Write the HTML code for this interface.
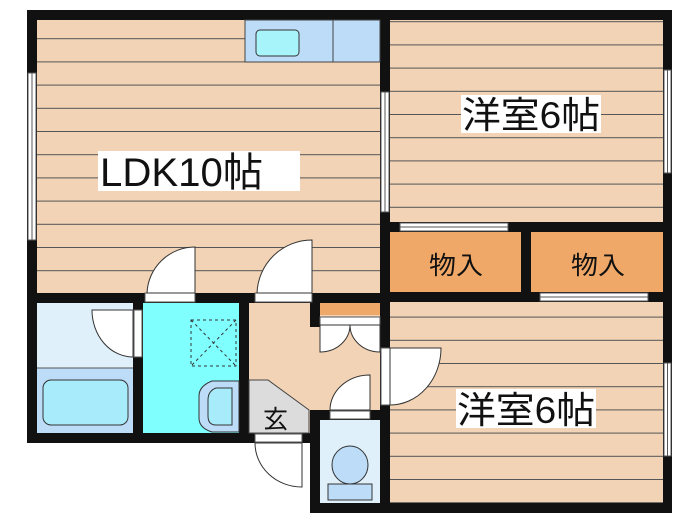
<!DOCTYPE html>
<html><head><meta charset="utf-8"><style>
html,body{margin:0;padding:0;background:#fff;width:700px;height:525px;overflow:hidden}
svg{display:block}
text{font-family:"Liberation Sans","Noto Sans CJK JP",sans-serif;fill:#111}
</style></head><body>
<svg width="700" height="525" viewBox="0 0 700 525" xmlns="http://www.w3.org/2000/svg">
<defs>
<pattern id="wood1" x="0" y="16" width="10" height="23.2" patternUnits="userSpaceOnUse">
<rect width="10" height="23.2" fill="#f2d3b5"/><rect y="22.2" width="10" height="1" fill="#555"/>
</pattern>
<pattern id="wood2" x="0" y="-1" width="10" height="23.2" patternUnits="userSpaceOnUse">
<rect width="10" height="23.2" fill="#f2d3b5"/><rect y="22.2" width="10" height="1" fill="#555"/>
</pattern>
</defs>
<rect x="27" y="10" width="645" height="283" fill="#111"/>
<rect x="27" y="293" width="353" height="150" fill="#111"/>
<rect x="249" y="293" width="423" height="117" fill="#111"/>
<rect x="310" y="293" width="362" height="220" fill="#111"/>
<!-- LDK -->
<rect x="37" y="20" width="343" height="273" fill="url(#wood1)"/>
<rect x="245" y="20" width="135" height="42" fill="#bcdcf8" stroke="#444" stroke-width="1"/>
<line x1="333" y1="20" x2="333" y2="62" stroke="#444"/>
<rect x="256" y="30" width="43" height="26" rx="4" fill="#a8f4fb" stroke="#333" stroke-width="1"/>
<rect x="98" y="151" width="202" height="40" fill="#fff"/>
<text x="100" y="186" font-size="40" textLength="163" lengthAdjust="spacingAndGlyphs">LDK10帖</text>
<rect x="28" y="73" width="8" height="167" fill="#fff" stroke="#555" stroke-width="1"/>
<line x1="32" y1="73" x2="32" y2="240" stroke="#555"/>
<rect x="381" y="92" width="8" height="120" fill="#fff" stroke="#555" stroke-width="1"/>
<line x1="385" y1="92" x2="385" y2="212" stroke="#555"/>
<rect x="145" y="293" width="50" height="9" fill="#fff" stroke="#555"/>
<path d="M195,293 L195,247 A48,48 0 0,0 147,293 Z" fill="#fff" stroke="#333"/>
<rect x="255" y="293" width="57" height="9" fill="#fff" stroke="#555"/>
<path d="M312,293 L312,240 A55,55 0 0,0 257,293 Z" fill="#fff" stroke="#333"/>
<!-- Room 1 -->
<rect x="390" y="20" width="273" height="202" fill="url(#wood2)"/>
<rect x="461" y="95" width="140" height="38" fill="#fff"/>
<text x="462" y="128" font-size="37" textLength="138" lengthAdjust="spacingAndGlyphs">洋室6帖</text>
<rect x="664" y="70" width="7" height="103" fill="#fff" stroke="#555"/>
<line x1="667.5" y1="70" x2="667.5" y2="173" stroke="#555"/>
<rect x="400" y="223" width="108" height="8" fill="#fff" stroke="#555"/>
<line x1="400" y1="227" x2="508" y2="227" stroke="#555"/>
<rect x="390" y="232" width="131" height="60" fill="#f0a868"/>
<rect x="531" y="232" width="132" height="60" fill="#f0a868"/>
<text x="429" y="274" font-size="25" textLength="54" lengthAdjust="spacingAndGlyphs">物入</text>
<text x="571" y="274" font-size="25" textLength="54" lengthAdjust="spacingAndGlyphs">物入</text>
<rect x="540" y="293" width="108" height="8" fill="#fff" stroke="#555"/>
<line x1="540" y1="297" x2="648" y2="297" stroke="#555"/>
<!-- Room 2 -->
<rect x="390" y="302" width="273" height="201" fill="url(#wood1)"/>
<rect x="456" y="389" width="140" height="39" fill="#fff"/>
<text x="457" y="423" font-size="37" textLength="138" lengthAdjust="spacingAndGlyphs">洋室6帖</text>
<rect x="664" y="363" width="7" height="93" fill="#fff" stroke="#555"/>
<line x1="667.5" y1="363" x2="667.5" y2="456" stroke="#555"/>
<rect x="381" y="348" width="9" height="57" fill="#fff" stroke="#555"/>
<path d="M390,348 L441,348 A51,57 0 0,1 390,405 Z" fill="#fff" stroke="#333"/>
<!-- Bath -->
<rect x="37" y="303" width="96" height="65" fill="#dff0fb"/>
<rect x="37" y="368" width="96" height="65" fill="#bcdcf8"/>
<line x1="37" y1="368" x2="133" y2="368" stroke="#555"/>
<rect x="43" y="380" width="85" height="45" rx="8" fill="#a8ecfb" stroke="#333"/>
<rect x="134" y="310" width="8" height="47" fill="#fff" stroke="#555"/>
<path d="M133,310 L92,310 A41,47 0 0,0 133,357 Z" fill="#fff" stroke="#333"/>
<!-- Wash -->
<rect x="143" y="303" width="96" height="130" fill="#80ffff"/>
<rect x="191" y="320" width="45" height="46" fill="none" stroke="#333" stroke-dasharray="3,3"/>
<line x1="191" y1="320" x2="236" y2="366" stroke="#333" stroke-dasharray="3,3"/>
<line x1="236" y1="320" x2="191" y2="366" stroke="#333" stroke-dasharray="3,3"/>
<path d="M239,381 L212,381 Q199,386 199,396 L199,418 Q199,428 212,432 L239,432 Z" fill="#bcdcf8" stroke="#333"/>
<path d="M232,388 L216,388 Q208,391 208,400 L208,416 Q208,425 216,425 L232,425 Z" fill="#a8ecfb" stroke="#333"/>
<!-- Hall -->
<path d="M249,303 L310,303 L310,327 L320,327 L320,303 L380,303 L380,410 L310,410 L310,433 L249,433 Z" fill="#f2d3b5"/>
<rect x="320" y="303" width="60" height="12" fill="#f0a868"/>
<rect x="320" y="317" width="60" height="8" fill="#fff" stroke="#555"/>
<path d="M320,325 L320,352 A30,27 0 0,0 350,325 Z" fill="#fff" stroke="#333"/>
<path d="M380,325 L380,352 A30,27 0 0,1 350,325 Z" fill="#fff" stroke="#333"/>
<path d="M249,380 L268,380 L309,410 L309,433 L249,433 Z" fill="#dcdcdc" stroke="#444"/>
<text x="263" y="428" font-size="25">玄</text>
<rect x="255" y="434" width="47" height="8" fill="#fff" stroke="#555"/>
<path d="M302,443 L302,487 A47,44 0 0,1 255,443 Z" fill="#fff" stroke="#333"/>
<!-- Toilet -->
<rect x="320" y="420" width="60" height="83" fill="#dff0fb"/>
<rect x="330" y="411" width="40" height="8" fill="#fff" stroke="#555"/>
<path d="M370,410 L370,375 A40,35 0 0,0 330,410 Z" fill="#fff" stroke="#333"/>
<ellipse cx="350" cy="465" rx="18" ry="19" fill="#bcdcf8" stroke="#333"/>
<rect x="328" y="484" width="44" height="16" fill="#bcdcf8" stroke="#333"/>
</svg>
</body></html>
